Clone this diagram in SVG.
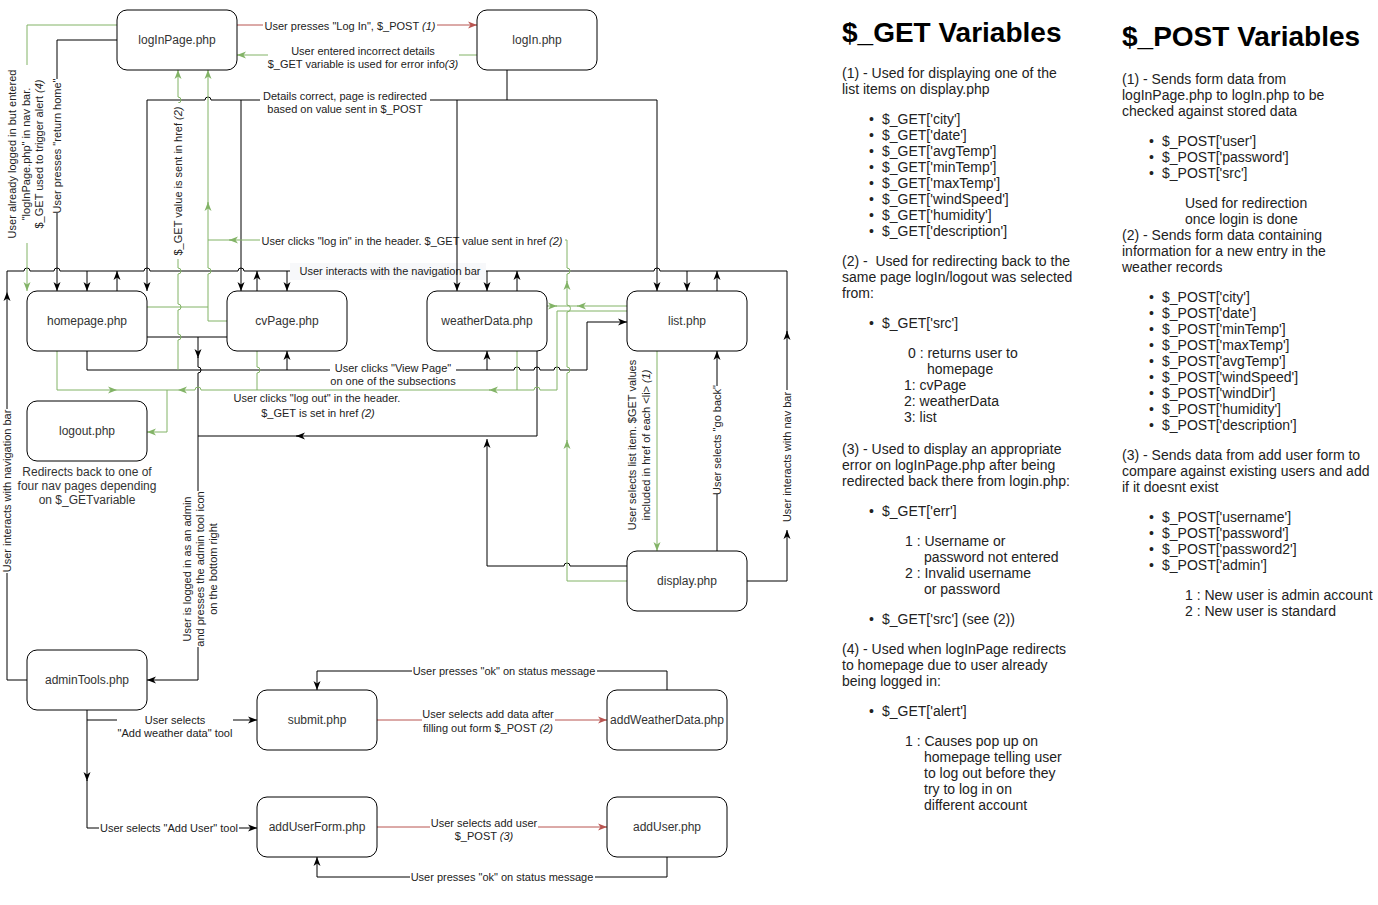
<svg xmlns="http://www.w3.org/2000/svg" width="1378" height="905" viewBox="0 0 1378 905">
<style>
.n rect{fill:#fff;stroke:#000;stroke-width:1}
.n text{font-family:"Liberation Sans",Arial,Helvetica,sans-serif;font-size:12px;fill:#333;text-anchor:middle}
.e{fill:none;stroke:#000;stroke-width:1}
.g{fill:none;stroke:#82b366;stroke-width:1}
.r{fill:none;stroke:#b85450;stroke-width:1}
.ma{marker-end:url(#aB)}
.mg{marker-end:url(#aG)}
.mr{marker-end:url(#aR)}
.lt{font-family:"Liberation Sans",Arial,Helvetica,sans-serif;font-size:11px;fill:#222;text-anchor:middle}
.l12{font-family:"Liberation Sans",Arial,Helvetica,sans-serif;font-size:12px;fill:#333;text-anchor:middle}
.bg{fill:#fff}
.pt{font-family:"Liberation Sans",Arial,Helvetica,sans-serif;font-size:14px;fill:#222}
.ph{font-family:"Liberation Sans",Arial,Helvetica,sans-serif;font-size:28px;font-weight:bold;fill:#000}
.i{font-style:italic}
</style>
<defs>
<marker id="aB" viewBox="0 0 10 8" markerWidth="10" markerHeight="8" refX="9" refY="4" orient="auto" markerUnits="userSpaceOnUse"><path d="M0,0.5 L9,4 L0,7.5 L2.5,4 Z" fill="#000"/></marker>
<marker id="aG" viewBox="0 0 10 8" markerWidth="10" markerHeight="8" refX="9" refY="4" orient="auto" markerUnits="userSpaceOnUse"><path d="M0,0.5 L9,4 L0,7.5 L2.5,4 Z" fill="#82b366"/></marker>
<marker id="aR" viewBox="0 0 10 8" markerWidth="10" markerHeight="8" refX="9" refY="4" orient="auto" markerUnits="userSpaceOnUse"><path d="M0,0.5 L9,4 L0,7.5 L2.5,4 Z" fill="#b85450"/></marker>
</defs>
<rect width="1378" height="905" fill="#fff"/>

<g id="connectors">
<!-- nav bar -->
<path class="e" d="M7,292 V271 H24 a3,3 0 0 1 6,0 H54 a3,3 0 0 1 6,0 H144 a3,3 0 0 1 6,0 H238 a3,3 0 0 1 6,0 H654 a3,3 0 0 1 6,0 H787 V333"/>
<path class="e ma" d="M87,271 V291"/>
<path class="e ma" d="M287,271 V291"/>
<path class="e ma" d="M487,271 V291"/>
<path class="e ma" d="M687,271 V291"/>
<path class="e ma" d="M117,291 V271"/>
<path class="e ma" d="M257,291 V271"/>
<path class="e ma" d="M517,291 V271"/>
<path class="e ma" d="M717,291 V271"/>
<path class="e ma" d="M27,680 H7 V292"/>
<path class="e ma" d="M747,581 H787 V530"/>
<path class="e ma" d="M787,392 V331"/>
<!-- return home -->
<path class="e ma" d="M117,40 H57 V291"/>
<!-- details correct -->
<path class="e" d="M507,70 V100"/>
<path class="e ma" d="M507,100 H211 a3,3 0 0 0 -6,0 H147 V291"/>
<path class="e ma" d="M507,100 H657 V291"/>
<path class="e ma" d="M241,100 V291"/>
<!-- admin -->
<path class="e" d="M147,337 H227"/>
<path class="e ma" d="M198,337 V358"/>
<path class="e ma" d="M198,357 V367 a3,3 0 0 1 0,6 V680 H147"/>
<path class="e ma" d="M537,351 V436 H296"/>
<path class="e" d="M300,436 H198"/>
<!-- view page -->
<path class="e ma" d="M87,351 V370 H514 a3,3 0 0 1 6,0 H534 a3,3 0 0 1 6,0 H554 a3,3 0 0 1 6,0 H587 V322 H627"/>
<path class="e ma" d="M287,370 V351"/>
<path class="e ma" d="M487,370 V351"/>
<!-- display to weatherData -->
<path class="e ma" d="M627,566 H570 a3,3 0 0 0 -6,0 H487 V439"/>
<!-- go back -->
<path class="e ma" d="M717,551 V351"/>
<!-- green: already logged in -->
<path class="g mg" d="M117,25 H27 V291"/>
<!-- green: login from pages -->
<path class="g" d="M147,307 H208"/>
<path class="g mg" d="M227,321 H208 V274 a3,3 0 0 0 0,-6 V202"/>
<path class="g mg" d="M208,204 V70"/>
<path class="g mg" d="M178,370 V340 a3,3 0 0 0 0,-6 V310 a3,3 0 0 0 0,-6 V274 a3,3 0 0 0 0,-6 V103 a3,3 0 0 0 0,-6 V70"/>
<path class="g mg" d="M627,581 H567 V440"/>
<path class="g mg" d="M567,441 V373 a3,3 0 0 0 0,-6 V312 a3.5,3.5 0 0 0 0,-7 V281"/>
<path class="g mg" d="M567,282 V274 a3,3 0 0 0 0,-6 V240 H229"/>
<path class="g" d="M231,240 H208"/>
<path class="g mg" d="M547,306 H557"/>
<path class="g mg" d="M627,306 H577"/>
<path class="g" d="M556,306 H578"/>
<!-- green: logout -->
<path class="g mg" d="M627,311 H557 V390 H540 a3,3 0 0 0 -6,0 H489"/>
<path class="g mg" d="M490,390 H201 a3,3 0 0 0 -6,0 H178"/>
<path class="g" d="M178,390 H167"/>
<path class="g" d="M257,351 V367 a3,3 0 0 1 0,6 V390"/>
<path class="g" d="M517,351 V390"/>
<path class="g mg" d="M57,351 V390 H117"/>
<path class="g mg" d="M117,390 H167 V432 H147"/>
<!-- list to display -->
<path class="g mg" d="M657,351 V551"/>
<!-- login -->
<path class="r mr" d="M237,25 H477"/>
<path class="g mg" d="M477,55 H237"/>
<!-- admin tools -->
<path class="e ma" d="M87,710 V720 H257"/>
<path class="e ma" d="M87,720 V781"/>
<path class="e ma" d="M87,780 V828 H257"/>
<path class="r mr" d="M377,720 H607"/>
<path class="r mr" d="M377,827 H607"/>
<path class="e ma" d="M667,690 V671 H317 V690"/>
<path class="e ma" d="M667,857 V877 H317 V857"/>
</g>

<g id="edge-labels">
<rect class="bg" x="263" y="19" width="174" height="14"/>
<text class="lt" x="350" y="30">User presses "Log In", $_POST <tspan class="i">(1)</tspan></text>
<rect class="bg" x="268" y="44" width="191" height="27"/>
<text class="lt" x="363" y="55">User entered incorrect details</text>
<text class="lt" x="363" y="68">$_GET variable is used for error info<tspan class="i">(3)</tspan></text>
<rect class="bg" x="260" y="89" width="170" height="27"/>
<text class="lt" x="345" y="100">Details correct, page is redirected</text>
<text class="lt" x="345" y="113">based on value sent in $_POST</text>
<rect class="bg" x="260" y="233" width="305" height="15"/>
<text class="lt" x="412" y="245">User clicks "log in" in the header. $_GET value sent in href <tspan class="i">(2)</tspan></text>
<rect x="290" y="263" width="196" height="17" fill="#f7f8fa"/>
<text class="lt" x="390" y="275">User interacts with the navigation bar</text>
<rect class="bg" x="330" y="361" width="126" height="27"/>
<text class="lt" x="393" y="372">User clicks "View Page"</text>
<text class="lt" x="393" y="385">on one of the subsections</text>
<text class="lt" x="317" y="402">User clicks "log out" in the header.</text>
<text class="lt" x="318" y="417">$_GET is set in href <tspan class="i">(2)</tspan></text>
<text class="l12" x="87" y="476">Redirects back to one of</text>
<text class="l12" x="87" y="490">four nav pages depending</text>
<text class="l12" x="87" y="504">on $_GETvariable</text>
<g transform="translate(26,154) rotate(-90)">
<rect class="bg" x="-89" y="-21" width="178" height="42"/>
<text class="lt" x="0" y="-10">User already logged in but entered</text>
<text class="lt" x="0" y="4">"logInPage.php" in nav bar.</text>
<text class="lt" x="0" y="17">$_GET used to trigger alert <tspan class="i">(4)</tspan></text>
</g>
<g transform="translate(57,146) rotate(-90)">
<rect class="bg" x="-67" y="-7" width="134" height="14"/>
<text class="lt" x="0" y="4">User presses "return home"</text>
</g>
<g transform="translate(178,181) rotate(-90)">
<rect class="bg" x="-78" y="-7" width="156" height="14"/>
<text class="lt" x="0" y="4">$_GET value is sent in href <tspan class="i">(2)</tspan></text>
</g>
<g transform="translate(7,491) rotate(-90)">
<rect class="bg" x="-82" y="-7" width="164" height="14"/>
<text class="lt" x="0" y="4">User interacts with navigation bar</text>
</g>
<g transform="translate(200,569) rotate(-90)">
<rect class="bg" x="-78" y="-20" width="156" height="40"/>
<text class="lt" x="0" y="-9">User is logged in as an admin</text>
<text class="lt" x="0" y="4">and presses the admin tool icon</text>
<text class="lt" x="0" y="17">on the bottom right</text>
</g>
<g transform="translate(639,445) rotate(-90)">
<text class="lt" x="0" y="-3">User selects list item. $GET values</text>
<text class="lt" x="0" y="11">included in href of each &lt;li&gt; <tspan class="i">(1)</tspan></text>
</g>
<g transform="translate(717,440) rotate(-90)">
<rect class="bg" x="-54" y="-7" width="108" height="14"/>
<text class="lt" x="0" y="4">User selects "go back"</text>
</g>
<g transform="translate(787,457) rotate(-90)">
<rect class="bg" x="-67" y="-7" width="134" height="14"/>
<text class="lt" x="0" y="4">User interacts with nav bar</text>
</g>
<rect class="bg" x="117" y="713" width="116" height="28"/>
<text class="lt" x="175" y="724">User selects</text>
<text class="lt" x="175" y="737">"Add weather data" tool</text>
<rect class="bg" x="99" y="821" width="140" height="14"/>
<text class="lt" x="169" y="832">User selects "Add User" tool</text>
<rect class="bg" x="422" y="707" width="133" height="30"/>
<text class="lt" x="488" y="718">User selects add data after</text>
<text class="lt" x="488" y="732">filling out form $_POST <tspan class="i">(2)</tspan></text>
<rect class="bg" x="430" y="815" width="108" height="28"/>
<text class="lt" x="484" y="827">User selects add user</text>
<text class="lt" x="484" y="840">$_POST <tspan class="i">(3)</tspan></text>
<rect class="bg" x="412" y="665" width="185" height="14"/>
<text class="lt" x="504" y="675">User presses "ok" on status message</text>
<rect class="bg" x="410" y="871" width="185" height="14"/>
<text class="lt" x="502" y="881">User presses "ok" on status message</text>
</g>

<g id="connectors-top">
<path class="e ma" d="M457,100 V291"/>
</g>

<g id="logInPage" class="n"><rect x="117" y="10" width="120" height="60" rx="10"/><text x="177" y="44">logInPage.php</text></g>
<g id="logIn" class="n"><rect x="477" y="10" width="120" height="60" rx="10"/><text x="537" y="44">logIn.php</text></g>
<g id="homepage" class="n"><rect x="27" y="291" width="120" height="60" rx="10"/><text x="87" y="325">homepage.php</text></g>
<g id="cvPage" class="n"><rect x="227" y="291" width="120" height="60" rx="10"/><text x="287" y="325">cvPage.php</text></g>
<g id="weatherData" class="n"><rect x="427" y="291" width="120" height="60" rx="10"/><text x="487" y="325">weatherData.php</text></g>
<g id="list" class="n"><rect x="627" y="291" width="120" height="60" rx="10"/><text x="687" y="325">list.php</text></g>
<g id="logout" class="n"><rect x="27" y="401" width="120" height="60" rx="10"/><text x="87" y="435">logout.php</text></g>
<g id="display" class="n"><rect x="627" y="551" width="120" height="60" rx="10"/><text x="687" y="585">display.php</text></g>
<g id="adminTools" class="n"><rect x="27" y="650" width="120" height="60" rx="10"/><text x="87" y="684">adminTools.php</text></g>
<g id="submit" class="n"><rect x="257" y="690" width="120" height="60" rx="10"/><text x="317" y="724">submit.php</text></g>
<g id="addWeatherData" class="n"><rect x="607" y="690" width="120" height="60" rx="10"/><text x="667" y="724">addWeatherData.php</text></g>
<g id="addUserForm" class="n"><rect x="257" y="797" width="120" height="60" rx="10"/><text x="317" y="831">addUserForm.php</text></g>
<g id="addUser" class="n"><rect x="607" y="797" width="120" height="60" rx="10"/><text x="667" y="831">addUser.php</text></g>

<g id="get-panel">
<text class="ph" x="842" y="42">$_GET Variables</text>
<text class="pt" x="842" y="78">(1) - Used for displaying one of the</text>
<text class="pt" x="842" y="94">list items on display.php</text>
<text class="pt" x="869" y="124">•</text><text class="pt" x="882" y="124">$_GET['city']</text>
<text class="pt" x="869" y="140">•</text><text class="pt" x="882" y="140">$_GET['date']</text>
<text class="pt" x="869" y="156">•</text><text class="pt" x="882" y="156">$_GET['avgTemp']</text>
<text class="pt" x="869" y="172">•</text><text class="pt" x="882" y="172">$_GET['minTemp']</text>
<text class="pt" x="869" y="188">•</text><text class="pt" x="882" y="188">$_GET['maxTemp']</text>
<text class="pt" x="869" y="204">•</text><text class="pt" x="882" y="204">$_GET['windSpeed']</text>
<text class="pt" x="869" y="220">•</text><text class="pt" x="882" y="220">$_GET['humidity']</text>
<text class="pt" x="869" y="236">•</text><text class="pt" x="882" y="236">$_GET['description']</text>
<text class="pt" x="842" y="266">(2) -&#160; Used for redirecting back to the</text>
<text class="pt" x="842" y="282">same page logIn/logout was selected</text>
<text class="pt" x="842" y="298">from:</text>
<text class="pt" x="869" y="328">•</text><text class="pt" x="882" y="328">$_GET['src']</text>
<text class="pt" x="908" y="358">0 : returns user to</text>
<text class="pt" x="927" y="374">homepage</text>
<text class="pt" x="904" y="390">1: cvPage</text>
<text class="pt" x="904" y="406">2: weatherData</text>
<text class="pt" x="904" y="422">3: list</text>
<text class="pt" x="842" y="454">(3) - Used to display an appropriate</text>
<text class="pt" x="842" y="470">error on logInPage.php after being</text>
<text class="pt" x="842" y="486">redirected back there from login.php:</text>
<text class="pt" x="869" y="516">•</text><text class="pt" x="882" y="516">$_GET['err']</text>
<text class="pt" x="905" y="546">1 : Username or</text>
<text class="pt" x="924" y="562">password not entered</text>
<text class="pt" x="905" y="578">2 : Invalid username</text>
<text class="pt" x="924" y="594">or password</text>
<text class="pt" x="869" y="624">•</text><text class="pt" x="882" y="624">$_GET['src'] (see (2))</text>
<text class="pt" x="842" y="654">(4) - Used when logInPage redirects</text>
<text class="pt" x="842" y="670">to homepage due to user already</text>
<text class="pt" x="842" y="686">being logged in:</text>
<text class="pt" x="869" y="716">•</text><text class="pt" x="882" y="716">$_GET['alert']</text>
<text class="pt" x="905" y="746">1 : Causes pop up on</text>
<text class="pt" x="924" y="762">homepage telling user</text>
<text class="pt" x="924" y="778">to log out before they</text>
<text class="pt" x="924" y="794">try to log in on</text>
<text class="pt" x="924" y="810">different account</text>
</g>

<g id="post-panel">
<text class="ph" x="1122" y="46">$_POST Variables</text>
<text class="pt" x="1122" y="84">(1) - Sends form data from</text>
<text class="pt" x="1122" y="100">logInPage.php to logIn.php to be</text>
<text class="pt" x="1122" y="116">checked against stored data</text>
<text class="pt" x="1149" y="146">•</text><text class="pt" x="1162" y="146">$_POST['user']</text>
<text class="pt" x="1149" y="162">•</text><text class="pt" x="1162" y="162">$_POST['password']</text>
<text class="pt" x="1149" y="178">•</text><text class="pt" x="1162" y="178">$_POST['src']</text>
<text class="pt" x="1185" y="208">Used for redirection</text>
<text class="pt" x="1185" y="224">once login is done</text>
<text class="pt" x="1122" y="240">(2) - Sends form data containing</text>
<text class="pt" x="1122" y="256">information for a new entry in the</text>
<text class="pt" x="1122" y="272">weather records</text>
<text class="pt" x="1149" y="302">•</text><text class="pt" x="1162" y="302">$_POST['city']</text>
<text class="pt" x="1149" y="318">•</text><text class="pt" x="1162" y="318">$_POST['date']</text>
<text class="pt" x="1149" y="334">•</text><text class="pt" x="1162" y="334">$_POST['minTemp']</text>
<text class="pt" x="1149" y="350">•</text><text class="pt" x="1162" y="350">$_POST['maxTemp']</text>
<text class="pt" x="1149" y="366">•</text><text class="pt" x="1162" y="366">$_POST['avgTemp']</text>
<text class="pt" x="1149" y="382">•</text><text class="pt" x="1162" y="382">$_POST['windSpeed']</text>
<text class="pt" x="1149" y="398">•</text><text class="pt" x="1162" y="398">$_POST['windDir']</text>
<text class="pt" x="1149" y="414">•</text><text class="pt" x="1162" y="414">$_POST['humidity']</text>
<text class="pt" x="1149" y="430">•</text><text class="pt" x="1162" y="430">$_POST['description']</text>
<text class="pt" x="1122" y="460">(3) - Sends data from add user form to</text>
<text class="pt" x="1122" y="476">compare against existing users and add</text>
<text class="pt" x="1122" y="492">if it doesnt exist</text>
<text class="pt" x="1149" y="522">•</text><text class="pt" x="1162" y="522">$_POST['username']</text>
<text class="pt" x="1149" y="538">•</text><text class="pt" x="1162" y="538">$_POST['password']</text>
<text class="pt" x="1149" y="554">•</text><text class="pt" x="1162" y="554">$_POST['password2']</text>
<text class="pt" x="1149" y="570">•</text><text class="pt" x="1162" y="570">$_POST['admin']</text>
<text class="pt" x="1185" y="600">1 : New user is admin account</text>
<text class="pt" x="1185" y="616">2 : New user is standard</text>
</g>
</svg>
